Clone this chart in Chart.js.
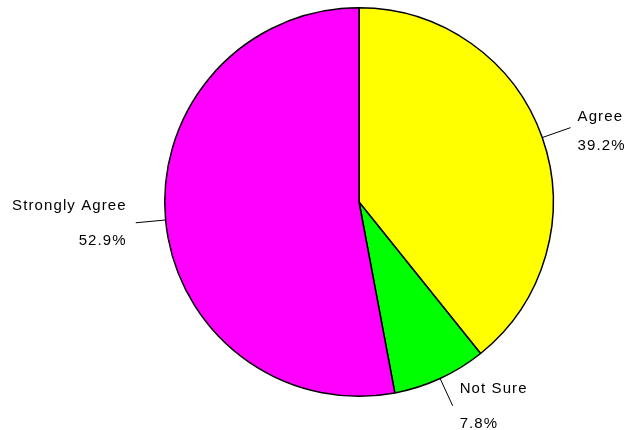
<!DOCTYPE html>
<html>
<head>
<meta charset="utf-8">
<script src="https://cdn.jsdelivr.net/npm/chart.js@4/dist/chart.umd.min.js"></script>
<style>
  html, body { margin: 0; padding: 0; background: #fff; }
  #wrap { width: 628px; height: 430px; }
</style>
</head>
<body>
<div id="wrap"><canvas id="pieChart" width="628" height="430"></canvas></div>
<script>
    const labels = ['Agree', 'Not Sure', 'Strongly Agree'];
    const values = [39.2, 7.8, 52.9];
    const colors = ['#ffff00', '#00ff00', '#ff00ff'];

    // leader lines + two-line labels drawn from each arc's own geometry
    const outsideLabels = {
        id: 'outsideLabels',
        afterDatasetsDraw(chart) {
            const c = chart.ctx;
            const meta = chart.getDatasetMeta(0);
            c.save();
            c.font = '15px "Liberation Sans", Arial, sans-serif';
            c.letterSpacing = '1.1px';
            c.fillStyle = '#000';
            c.strokeStyle = '#000';
            c.lineWidth = 1;
            meta.data.forEach((arc, i) => {
                const p = arc.getProps(['x', 'y', 'startAngle', 'endAngle', 'outerRadius'], true);
                const a = (p.startAngle + p.endAngle) / 2;
                const x1 = p.x + Math.cos(a) * p.outerRadius;
                const y1 = p.y + Math.sin(a) * p.outerRadius;
                const x2 = p.x + Math.cos(a) * (p.outerRadius + 30);
                const y2 = p.y + Math.sin(a) * (p.outerRadius + 30);
                c.beginPath();
                c.moveTo(x1, y1);
                c.lineTo(x2, y2);
                c.stroke();
                const right = Math.cos(a) >= 0;
                c.textAlign = right ? 'left' : 'right';
                c.textBaseline = 'middle';
                const tx = right ? x2 + 7 : x2 - 9;
                const up = right && Math.sin(a) < 0 ? 11 : 17;
                c.fillText(labels[i], tx, y2 - up);
                c.fillText(values[i].toFixed(1) + '%', tx, y2 + 18);
            });
            c.restore();
        }
    };

    const ctx = document.getElementById('pieChart').getContext('2d');
    const pieChart = new Chart(ctx, {
        type: 'pie',
        data: {
            labels: labels,
            datasets: [{
                data: values,
                backgroundColor: colors,
                borderColor: '#000',
                borderWidth: 1.5
            }]
        },
        options: {
            responsive: false,
            animation: false,
            layout: { padding: { left: 164, right: 74, top: 7, bottom: 33 } },
            plugins: {
                legend: { display: false },
                tooltip: { enabled: false }
            }
        },
        plugins: [outsideLabels]
    });
</script>
</body>
</html>
